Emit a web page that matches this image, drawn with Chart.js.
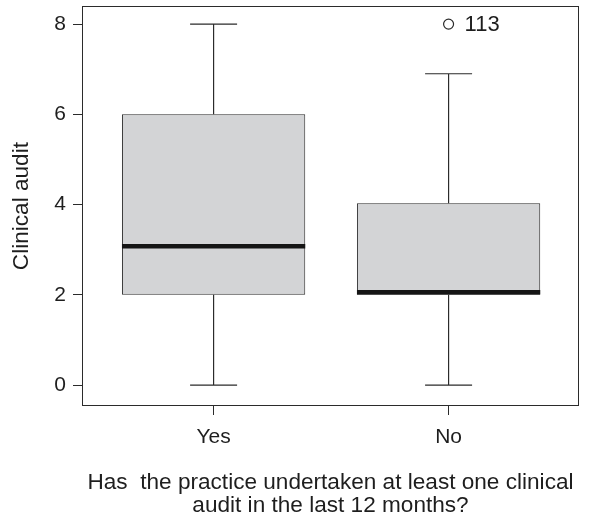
<!DOCTYPE html>
<html><head><meta charset="utf-8">
<script src="https://cdn.jsdelivr.net/npm/chart.js@4/dist/chart.umd.min.js"></script>
<style>html,body{margin:0;padding:0;background:#fff}#wrap{width:591px;height:524px}</style>
</head><body><div id="wrap"><canvas id="c" width="591" height="524"></canvas></div>
<script>
// Box plot summary per group
const categories = ['Yes', 'No'];
const whiskerLow = [0, 0];
const quartile1 = [2, 2];
const medians = [3.08, 2.06];
const quartile3 = [6, 4.03];
const whiskerHigh = [8, 6.9];
// Outliers: group index (1-based), value, case label
const outlierGroup = [2];
const outlierValues = [8];
const outlierLabels = ['113'];
const yTicks = [0, 2, 4, 6, 8];

const INK = '#2b2b2b';
const TEXT = '#1e1e1e';
const FONT = "'Liberation Sans', Arial, Helvetica, sans-serif";
const BOX_HALF = 0.39;
const CAP_HALF = 0.1;

const boxData = categories.map((c, i) => ({ x: i + 1, y: [quartile1[i], quartile3[i]] }));

const whiskerData = [];
categories.forEach((c, i) => {
  const x = i + 1;
  whiskerData.push({ x: x - CAP_HALF, y: whiskerHigh[i] }, { x: x + CAP_HALF, y: whiskerHigh[i] }, { x: x, y: null });
  whiskerData.push({ x: x, y: whiskerHigh[i] }, { x: x, y: quartile3[i] }, { x: x, y: null });
  whiskerData.push({ x: x, y: quartile1[i] }, { x: x, y: whiskerLow[i] }, { x: x, y: null });
  whiskerData.push({ x: x - CAP_HALF, y: whiskerLow[i] }, { x: x + CAP_HALF, y: whiskerLow[i] }, { x: x, y: null });
});

const medianData = [];
categories.forEach((c, i) => {
  const x = i + 1;
  medianData.push({ x: x - BOX_HALF, y: medians[i] }, { x: x + BOX_HALF, y: medians[i] }, { x: x, y: null });
});

const outlierData = outlierGroup.map((g, k) => ({ x: g, y: outlierValues[k] }));

// no extra edge padding for tick labels: the plot frame is placed by the layout padding alone
function noEdgePadding(scale) {
  scale.paddingTop = 0;
  scale.paddingBottom = 0;
  scale.paddingLeft = 0;
  scale.paddingRight = 0;
}

const framePlugin = {
  id: 'frame',
  afterDatasetsDraw(chart) {
    const { ctx, chartArea: a } = chart;
    ctx.save();
    ctx.strokeStyle = INK;
    ctx.lineWidth = 1;
    ctx.strokeRect(Math.round(a.left) + 0.5, Math.round(a.top) + 0.5, Math.round(a.right - a.left) - 1, Math.round(a.bottom - a.top) - 1);
    // case labels beside outliers
    const meta = chart.getDatasetMeta(3);
    ctx.fillStyle = TEXT;
    ctx.font = '22px ' + FONT;
    ctx.textBaseline = 'middle';
    ctx.textAlign = 'left';
    meta.data.forEach((pt, k) => {
      ctx.fillText(outlierLabels[k], pt.x + 16, pt.y + 1);
    });
    ctx.restore();
  }
};

new Chart(document.getElementById('c'), {
  type: 'bar',
  data: {
    datasets: [
      {
        type: 'bar',
        data: boxData,
        backgroundColor: '#d3d4d6',
        borderColor: INK,
        borderWidth: 1,
        borderSkipped: false,
        barPercentage: 2 * BOX_HALF,
        categoryPercentage: 1,
        order: 4
      },
      {
        type: 'line',
        data: whiskerData,
        borderColor: INK,
        borderWidth: 1.2,
        pointRadius: 0,
        spanGaps: false,
        tension: 0,
        order: 3
      },
      {
        type: 'line',
        data: medianData,
        borderColor: '#151515',
        borderWidth: 4.5,
        borderCapStyle: 'butt',
        pointRadius: 0,
        spanGaps: false,
        tension: 0,
        order: 2
      },
      {
        type: 'scatter',
        data: outlierData,
        pointStyle: 'circle',
        pointRadius: 5,
        borderColor: INK,
        borderWidth: 1.2,
        backgroundColor: '#ffffff',
        order: 1
      }
    ]
  },
  options: {
    responsive: false,
    animation: false,
    devicePixelRatio: 1,
    layout: { padding: { top: 4, right: 12, left: 0, bottom: 0 } },
    plugins: { legend: { display: false }, tooltip: { enabled: false } },
    scales: {
      x: {
        type: 'linear',
        min: 0.44,
        max: 2.555,
        offset: false,
        afterBuildTicks(scale) { scale.ticks = categories.map((c, i) => ({ value: i + 1 })); },
        afterFit(scale) { scale.height = 118; noEdgePadding(scale); },
        grid: { display: true, offset: false, drawOnChartArea: false, drawTicks: true, tickLength: 9, color: INK, lineWidth: 1 },
        border: { display: false },
        ticks: {
          color: TEXT,
          font: { family: FONT, size: 21 },
          padding: 10,
          maxRotation: 0,
          callback(v, i) { return categories[i]; }
        },
        title: {
          display: true,
          text: ['Has  the practice undertaken at least one clinical', 'audit in the last 12 months?'],
          color: TEXT,
          font: { family: FONT, size: 22.6, lineHeight: 1.02 },
          padding: { top: 0, bottom: 7 }
        }
      },
      y: {
        type: 'linear',
        min: -0.463,
        max: 8.397,
        afterBuildTicks(scale) { scale.ticks = yTicks.map(v => ({ value: v })); },
        afterFit(scale) { scale.width = 82; noEdgePadding(scale); },
        grid: { display: true, drawOnChartArea: false, drawTicks: true, tickLength: 9, color: INK, lineWidth: 1 },
        border: { display: false },
        ticks: {
          color: TEXT,
          font: { family: FONT, size: 21 },
          padding: 7,
          callback(v) { return String(v); }
        },
        title: {
          display: true,
          text: 'Clinical audit',
          color: TEXT,
          font: { family: FONT, size: 22.6, lineHeight: 1.2 },
          padding: { top: 8, bottom: 0 }
        }
      }
    }
  },
  plugins: [framePlugin]
});
</script>
</body></html>
